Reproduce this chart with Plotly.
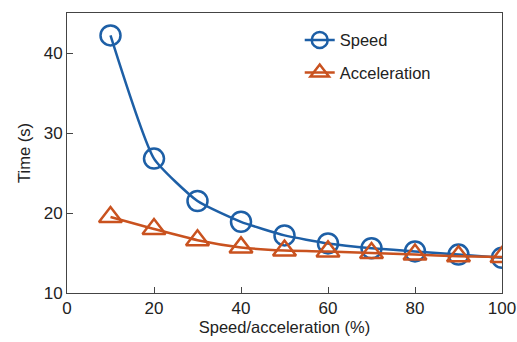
import plotly.graph_objects as go

x_vals = [10, 20, 30, 40, 50, 60, 70, 80, 90, 100]
speed = [42.2, 26.8, 21.5, 18.9, 17.2, 16.2, 15.6, 15.2, 14.8, 14.4]
accel = [19.5, 18.0, 16.6, 15.7, 15.3, 15.2, 15.0, 14.8, 14.6, 14.5]

blue = "#1d5fa6"
orange = "#c9521f"
font_family = "Liberation Sans, Arial"

fig = go.Figure()
fig.add_trace(go.Scatter(
    x=x_vals, y=speed, name="Speed", mode="lines+markers", legendgroup="a",
    line=dict(color=blue, width=2.5, shape="spline", smoothing=0.5),
    marker=dict(symbol="circle-open", size=20, color=blue, line=dict(width=2.5, color=blue)),
))
fig.add_trace(go.Scatter(
    x=x_vals, y=accel, name="Acceleration", mode="lines+markers", legendgroup="b",
    line=dict(color=orange, width=2.5, shape="spline", smoothing=0.5),
    marker=dict(symbol="triangle-up-open", size=20, color=orange, line=dict(width=2.5, color=orange)),
))

axis_common = dict(
    showgrid=False, zeroline=False, showline=True, linecolor="#444", linewidth=1,
    mirror=True, ticks="inside", ticklen=6, tickcolor="#444", automargin=False,
    tickfont=dict(family=font_family, size=17, color="#222"),
)
fig.update_xaxes(range=[0, 100], tickvals=[0, 20, 40, 60, 80, 100],
                 title=dict(text="Speed/acceleration (%)", font=dict(family=font_family, size=16.5, color="#222"), standoff=4),
                 **axis_common)
fig.update_yaxes(range=[10, 45], tickvals=[10, 20, 30, 40],
                 title=dict(text="Time (s)", font=dict(family=font_family, size=16.5, color="#222"), standoff=8),
                 **axis_common)

fig.update_layout(
    width=517, height=342,
    margin=dict(l=67, r=15, t=13, b=49),
    paper_bgcolor="white", plot_bgcolor="white",
    showlegend=True,
    legend=dict(x=0.535, y=0.965, xanchor="left", yanchor="top",
                font=dict(family=font_family, size=16.5, color="#222"),
                bgcolor="rgba(0,0,0,0)", itemwidth=30, tracegroupgap=8),
)

fig.write_html("out.html")
